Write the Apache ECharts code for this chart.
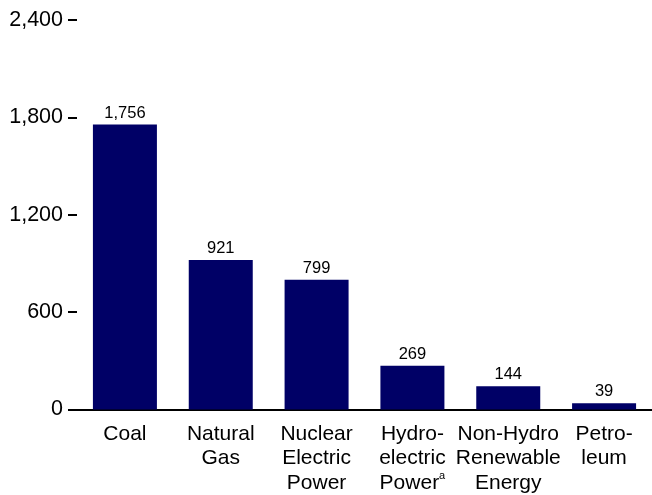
<!DOCTYPE html>
<html>
<head>
<meta charset="utf-8">
<style>
  html, body { margin: 0; padding: 0; background: #fff; }
  #chart { width: 652px; height: 495px; }
</style>
<script src="https://cdn.jsdelivr.net/npm/echarts@6/dist/echarts.min.js"></script>
</head>
<body>
<div id="chart"></div>
<script>
// energy sources and their values
const categories = [
  "Coal",
  "Natural\nGas",
  "Nuclear\nElectric\nPower",
  "Hydro-\nelectric\nPower{sup|a}",
  "Non-Hydro\nRenewable\nEnergy",
  "Petro-\nleum",
];
const values = [1756, 921, 799, 269, 144, 39];
const yTicks = [0, 600, 1200, 1800, 2400];

const fmt = (v) => v.toLocaleString("en-US");

const chart = echarts.init(document.getElementById("chart"));
const option = {
  animation: false,
  textStyle: { fontFamily: "Liberation Sans, Arial, sans-serif" },
  grid: { left: 77, right: -3, top: 20, bottom: 84 },
  xAxis: {
    type: "category",
    data: categories,
    axisLine: { lineStyle: { color: "#000", width: 2 } },
    axisTick: { show: false },
    axisLabel: {
      color: "#000",
      fontSize: 21,
      lineHeight: 24.5,
      margin: 12,
      interval: 0,
      rich: {
        sup: { fontSize: 11, verticalAlign: "top", lineHeight: 24.5, padding: [0, 0, 8, 0] },
      },
    },
  },
  yAxis: {
    type: "value",
    min: yTicks[0],
    max: yTicks[yTicks.length - 1],
    interval: 600,
    axisLine: { show: false },
    axisTick: { show: true, length: 9, lineStyle: { color: "#000", width: 2 } },
    splitLine: { show: false },
    axisLabel: { color: "#000", fontSize: 21.5, margin: 14, formatter: fmt },
  },
  series: [
    {
      type: "bar",
      data: values,
      barWidth: 64,
      itemStyle: { color: "#000066" },
      label: {
        show: true,
        position: "top",
        distance: 3,
        color: "#000",
        fontSize: 16.5,
        formatter: (p) => fmt(p.value),
      },
    },
  ],
};
chart.setOption(option);
</script>
</body>
</html>
